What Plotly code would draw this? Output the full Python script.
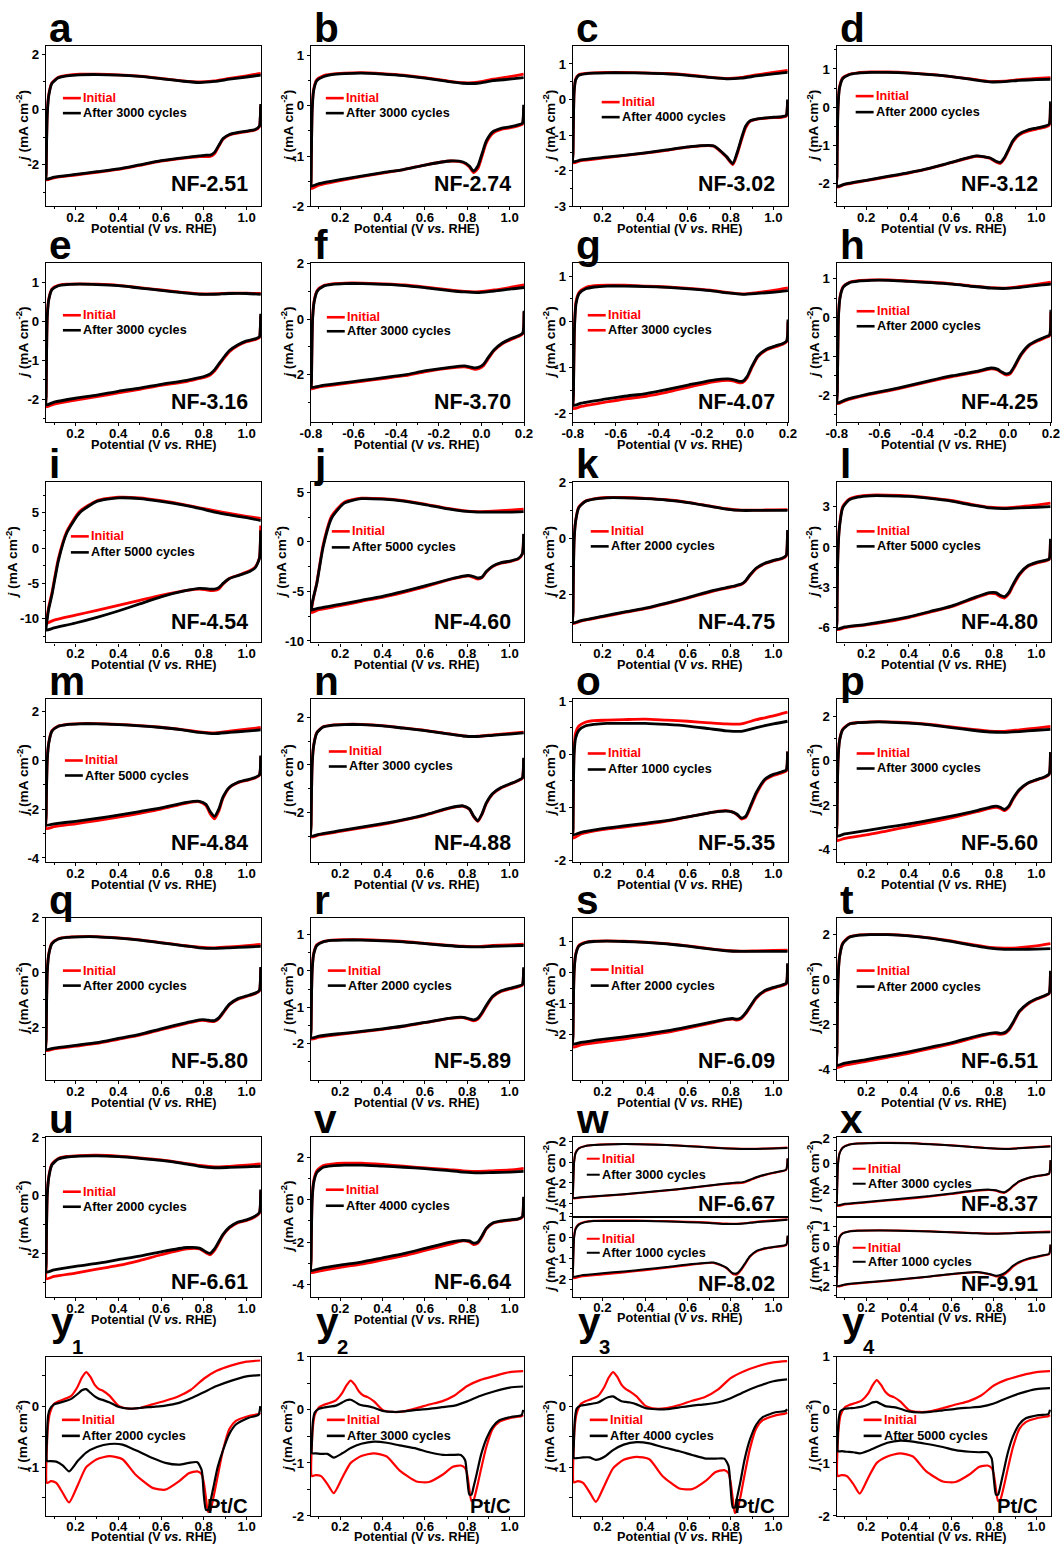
import plotly.graph_objects as go

# Positions below are given in pixels of the final picture.  The page puts the
# figure at an 8 px offset and the picture is a slightly reduced view of it
# (1076x1562 -> 1060x1546), so page pixels are converted with that mapping.
W, H = 1060, 1546
OFF = 8
SX, SY = 1060 / 1076, 1546 / 1562
K = 1 / SX  # font / size compensation
FONT = "Liberation Sans, Arial, sans-serif"
RED, BLACK = "#ff0000", "#000000"

# ---------------- potential grids (V vs. RHE) ----------------
X_UP = [0.063, 0.065, 0.068, 0.075, 0.09, 0.12, 0.16, 0.22, 0.3, 0.4, 0.5, 0.6, 0.7, 0.78, 0.85, 0.92, 1.0, 1.066]
X_DN = [1.066, 1.064, 1.06, 1.04, 1.0, 0.96, 0.92, 0.89, 0.87, 0.85, 0.83, 0.81, 0.78, 0.72, 0.6, 0.5, 0.4, 0.3, 0.2, 0.1, 0.063]
X_UP_NEG = [-0.797, -0.795, -0.792, -0.785, -0.77, -0.74, -0.7, -0.64, -0.56, -0.46, -0.36, -0.26, -0.16, -0.08, -0.01, 0.06, 0.14, 0.2]
X_DN_NEG = [0.2, 0.198, 0.194, 0.174, 0.14, 0.1, 0.06, 0.03, 0.01, -0.01, -0.03, -0.05, -0.08, -0.14, -0.26, -0.36, -0.46, -0.56, -0.66, -0.76, -0.797]
X_UP_PT = [0.067, 0.072, 0.08, 0.1, 0.12, 0.15, 0.18, 0.21, 0.23, 0.25, 0.27, 0.29, 0.31, 0.33, 0.36, 0.4, 0.45, 0.5, 0.56, 0.62, 0.68, 0.74, 0.8, 0.86, 0.93, 1.0, 1.064]
X_DN_PT = [1.064, 1.056, 1.01, 0.95, 0.92, 0.89, 0.865, 0.845, 0.83, 0.82, 0.81, 0.80, 0.79, 0.77, 0.73, 0.685, 0.62, 0.56, 0.48, 0.42, 0.36, 0.30, 0.25, 0.21, 0.17, 0.14, 0.11, 0.085, 0.067]

# ---------------- current densities j (mA cm^-2) ----------------
# _UP_ = anodic branch, _DN_ = cathodic branch, _I = initial, _A = after cycling
A_UP_I = [-2.3, -1.1, -0.1, 0.55, 0.97, 1.17, 1.24, 1.28, 1.28, 1.26, 1.21, 1.13, 1.04, 1.0, 1.04, 1.13, 1.22, 1.31]
A_UP_A = [-2.3, -1.2, -0.2, 0.5, 0.95, 1.15, 1.22, 1.26, 1.27, 1.25, 1.2, 1.12, 1.03, 0.98, 1.02, 1.1, 1.18, 1.25]
A_DN_I = [0.15, -0.32, -0.62, -0.74, -0.8, -0.85, -0.92, -1.08, -1.33, -1.6, -1.7, -1.7, -1.7, -1.75, -1.87, -2.02, -2.17, -2.27, -2.37, -2.47, -2.55]
A_DN_A = [0.2, -0.3, -0.6, -0.72, -0.78, -0.83, -0.9, -1.05, -1.3, -1.55, -1.65, -1.65, -1.68, -1.73, -1.85, -2.0, -2.15, -2.25, -2.35, -2.45, -2.52]

B_UP_I = [-1.5, -0.75, -0.05, 0.33, 0.52, 0.6, 0.63, 0.65, 0.66, 0.64, 0.61, 0.56, 0.5, 0.46, 0.47, 0.53, 0.58, 0.63]
B_UP_A = [-1.5, -0.8, -0.1, 0.3, 0.5, 0.58, 0.62, 0.64, 0.65, 0.63, 0.6, 0.55, 0.49, 0.45, 0.45, 0.5, 0.53, 0.56]
B_DN_I = [-0.05, -0.28, -0.37, -0.4, -0.44, -0.47, -0.55, -0.74, -1.0, -1.25, -1.33, -1.22, -1.13, -1.1, -1.18, -1.27, -1.34, -1.41, -1.49, -1.58, -1.65]
B_DN_A = [0.02, -0.25, -0.35, -0.38, -0.42, -0.45, -0.52, -0.7, -0.95, -1.2, -1.3, -1.2, -1.12, -1.1, -1.18, -1.27, -1.33, -1.4, -1.47, -1.55, -1.6]

C_UP_I = [-1.5, -0.55, 0.22, 0.57, 0.7, 0.73, 0.75, 0.76, 0.76, 0.75, 0.73, 0.69, 0.63, 0.59, 0.62, 0.69, 0.76, 0.82]
C_UP_A = [-1.5, -0.6, 0.2, 0.55, 0.68, 0.72, 0.74, 0.75, 0.75, 0.74, 0.72, 0.68, 0.62, 0.58, 0.6, 0.66, 0.72, 0.76]
C_DN_I = [-0.05, -0.32, -0.47, -0.5, -0.51, -0.53, -0.56, -0.62, -0.8, -1.15, -1.55, -1.83, -1.62, -1.31, -1.34, -1.43, -1.51, -1.58, -1.65, -1.72, -1.78]
C_DN_A = [0.0, -0.3, -0.45, -0.48, -0.5, -0.52, -0.55, -0.6, -0.75, -1.1, -1.5, -1.8, -1.6, -1.3, -1.33, -1.42, -1.5, -1.57, -1.63, -1.7, -1.75]

D_UP_I = [-1.8, -0.75, 0.05, 0.53, 0.77, 0.86, 0.9, 0.92, 0.92, 0.9, 0.86, 0.8, 0.73, 0.67, 0.68, 0.72, 0.75, 0.77]
D_UP_A = [-1.8, -0.8, 0.0, 0.5, 0.75, 0.85, 0.89, 0.91, 0.91, 0.89, 0.85, 0.8, 0.72, 0.66, 0.67, 0.7, 0.72, 0.73]
D_DN_I = [0.1, -0.32, -0.48, -0.53, -0.58, -0.63, -0.73, -0.91, -1.13, -1.35, -1.48, -1.44, -1.34, -1.29, -1.46, -1.61, -1.73, -1.83, -1.93, -2.03, -2.1]
D_DN_A = [0.15, -0.3, -0.45, -0.5, -0.55, -0.6, -0.7, -0.88, -1.1, -1.32, -1.45, -1.42, -1.33, -1.28, -1.45, -1.6, -1.72, -1.82, -1.92, -2.02, -2.08]

E_UP_I = [-1.9, -0.75, 0.15, 0.58, 0.84, 0.93, 0.96, 0.97, 0.96, 0.93, 0.87, 0.81, 0.75, 0.71, 0.71, 0.73, 0.73, 0.72]
E_UP_A = [-1.9, -0.8, 0.1, 0.55, 0.82, 0.92, 0.95, 0.96, 0.95, 0.92, 0.86, 0.8, 0.74, 0.7, 0.7, 0.72, 0.72, 0.7]
E_DN_I = [0.15, -0.22, -0.42, -0.47, -0.52, -0.62, -0.78, -0.98, -1.13, -1.28, -1.38, -1.43, -1.47, -1.55, -1.65, -1.75, -1.84, -1.94, -2.03, -2.13, -2.2]
E_DN_A = [0.2, -0.2, -0.4, -0.45, -0.5, -0.6, -0.75, -0.95, -1.1, -1.25, -1.35, -1.4, -1.45, -1.52, -1.62, -1.72, -1.8, -1.9, -1.98, -2.08, -2.15]

F_UP_I = [-2.2, -0.95, 0.05, 0.65, 1.03, 1.2, 1.26, 1.29, 1.29, 1.26, 1.22, 1.14, 1.05, 0.99, 0.98, 1.04, 1.14, 1.22]
F_UP_A = [-2.2, -1.0, 0.0, 0.6, 1.0, 1.18, 1.24, 1.27, 1.27, 1.24, 1.2, 1.12, 1.03, 0.97, 0.95, 1.0, 1.08, 1.13]
F_DN_I = [0.25, -0.33, -0.53, -0.63, -0.73, -0.88, -1.13, -1.45, -1.67, -1.77, -1.8, -1.76, -1.71, -1.75, -1.88, -2.03, -2.13, -2.23, -2.33, -2.43, -2.5]
F_DN_A = [0.3, -0.3, -0.5, -0.6, -0.7, -0.85, -1.1, -1.4, -1.62, -1.72, -1.75, -1.72, -1.68, -1.72, -1.85, -2.0, -2.1, -2.2, -2.3, -2.4, -2.45]

G_UP_I = [-1.6, -0.75, -0.05, 0.45, 0.65, 0.75, 0.79, 0.8, 0.8, 0.78, 0.76, 0.73, 0.69, 0.64, 0.61, 0.64, 0.69, 0.74]
G_UP_A = [-1.6, -0.8, -0.1, 0.4, 0.62, 0.72, 0.76, 0.78, 0.78, 0.77, 0.75, 0.72, 0.68, 0.63, 0.6, 0.62, 0.65, 0.68]
G_DN_I = [0.0, -0.32, -0.44, -0.5, -0.55, -0.62, -0.77, -1.03, -1.23, -1.33, -1.33, -1.3, -1.28, -1.31, -1.43, -1.54, -1.63, -1.69, -1.77, -1.85, -1.9]
G_DN_A = [0.05, -0.3, -0.42, -0.48, -0.53, -0.6, -0.75, -1.0, -1.2, -1.3, -1.3, -1.27, -1.25, -1.27, -1.38, -1.48, -1.57, -1.63, -1.7, -1.78, -1.83]

H_UP_I = [-1.9, -0.85, 0.05, 0.53, 0.8, 0.91, 0.95, 0.97, 0.97, 0.94, 0.91, 0.87, 0.81, 0.77, 0.76, 0.8, 0.86, 0.91]
H_UP_A = [-1.9, -0.9, 0.0, 0.5, 0.78, 0.9, 0.94, 0.96, 0.96, 0.93, 0.9, 0.86, 0.8, 0.76, 0.75, 0.78, 0.83, 0.86]
H_DN_I = [0.15, -0.32, -0.47, -0.52, -0.6, -0.72, -0.98, -1.28, -1.45, -1.48, -1.42, -1.35, -1.32, -1.4, -1.52, -1.64, -1.77, -1.89, -2.0, -2.14, -2.22]
H_DN_A = [0.2, -0.3, -0.45, -0.5, -0.58, -0.7, -0.95, -1.25, -1.42, -1.45, -1.4, -1.33, -1.3, -1.38, -1.5, -1.62, -1.75, -1.87, -1.98, -2.12, -2.2]

I_UP_I = [-10.7, -10.2, -9.6, -8.3, -6.3, -1.5, 2.4, 5.2, 6.7, 7.2, 7.1, 6.7, 6.2, 5.7, 5.3, 4.9, 4.5, 4.2]
I_UP_A = [-11.2, -10.7, -10.0, -8.6, -6.6, -1.8, 2.2, 5.0, 6.6, 7.1, 7.0, 6.6, 6.1, 5.6, 5.1, 4.7, 4.3, 3.9]
I_DN_I = [3.2, 0.5, -1.4, -2.7, -3.4, -3.85, -4.3, -5.1, -5.8, -6.0, -6.0, -5.9, -5.8, -6.0, -6.7, -7.4, -8.1, -8.8, -9.5, -10.2, -10.7]
I_DN_A = [2.5, 0.3, -1.5, -2.8, -3.5, -3.9, -4.3, -5.0, -5.6, -5.8, -5.8, -5.75, -5.7, -6.0, -6.9, -7.9, -8.9, -9.8, -10.6, -11.3, -11.6]

J_UP_I = [-7.1, -6.8, -6.4, -5.6, -4.1, -0.3, 2.6, 4.0, 4.4, 4.35, 4.15, 3.8, 3.4, 3.15, 3.05, 3.1, 3.2, 3.3]
J_UP_A = [-6.9, -6.6, -6.2, -5.5, -4.2, -0.5, 2.4, 3.9, 4.35, 4.3, 4.1, 3.75, 3.35, 3.1, 3.0, 3.0, 3.0, 3.05]
J_DN_I = [0.7, -0.55, -1.25, -1.75, -2.0, -2.15, -2.5, -3.05, -3.6, -3.75, -3.6, -3.45, -3.5, -3.8, -4.55, -5.1, -5.6, -6.0, -6.45, -6.85, -7.15]
J_DN_A = [0.8, -0.5, -1.2, -1.7, -1.95, -2.1, -2.45, -3.0, -3.55, -3.65, -3.5, -3.4, -3.45, -3.75, -4.45, -5.0, -5.5, -5.9, -6.3, -6.7, -6.9]

K_UP_I = [-2.6, -1.15, -0.05, 0.63, 1.12, 1.33, 1.41, 1.46, 1.46, 1.43, 1.38, 1.29, 1.16, 1.06, 1.01, 1.01, 1.02, 1.03]
K_UP_A = [-2.6, -1.2, -0.1, 0.6, 1.1, 1.32, 1.4, 1.45, 1.45, 1.42, 1.37, 1.28, 1.15, 1.05, 1.0, 1.0, 1.0, 1.0]
K_DN_I = [0.25, -0.32, -0.62, -0.72, -0.8, -0.9, -1.07, -1.32, -1.52, -1.64, -1.68, -1.72, -1.77, -1.87, -2.12, -2.32, -2.5, -2.64, -2.79, -2.94, -3.03]
K_DN_A = [0.3, -0.3, -0.6, -0.7, -0.78, -0.88, -1.05, -1.3, -1.5, -1.62, -1.66, -1.7, -1.75, -1.85, -2.1, -2.3, -2.48, -2.62, -2.77, -2.92, -3.0]

L_UP_I = [-5.5, -2.3, -0.1, 1.6, 3.0, 3.55, 3.75, 3.85, 3.85, 3.8, 3.65, 3.45, 3.15, 2.95, 2.9, 2.98, 3.1, 3.25]
L_UP_A = [-5.5, -2.5, -0.3, 1.5, 2.9, 3.5, 3.7, 3.8, 3.8, 3.75, 3.6, 3.4, 3.1, 2.9, 2.85, 2.9, 2.95, 3.0]
L_DN_I = [0.5, -0.45, -0.95, -1.05, -1.2, -1.45, -2.1, -2.9, -3.5, -3.8, -3.7, -3.5, -3.45, -3.75, -4.45, -4.85, -5.25, -5.55, -5.8, -6.0, -6.15]
L_DN_A = [0.6, -0.4, -0.9, -1.0, -1.15, -1.4, -2.0, -2.8, -3.4, -3.7, -3.6, -3.4, -3.4, -3.7, -4.4, -4.8, -5.2, -5.5, -5.75, -5.95, -6.1]

M_UP_I = [-2.3, -0.95, 0.05, 0.73, 1.22, 1.41, 1.48, 1.51, 1.51, 1.48, 1.43, 1.36, 1.26, 1.17, 1.13, 1.2, 1.28, 1.35]
M_UP_A = [-2.2, -1.0, 0.0, 0.7, 1.2, 1.4, 1.47, 1.5, 1.5, 1.47, 1.42, 1.35, 1.25, 1.15, 1.1, 1.15, 1.2, 1.25]
M_DN_I = [0.15, -0.42, -0.62, -0.72, -0.82, -0.92, -1.12, -1.55, -2.08, -2.4, -2.2, -1.85, -1.7, -1.75, -2.0, -2.17, -2.33, -2.47, -2.6, -2.72, -2.8]
M_DN_A = [0.2, -0.4, -0.6, -0.7, -0.8, -0.9, -1.1, -1.5, -2.0, -2.3, -2.1, -1.8, -1.68, -1.72, -1.95, -2.1, -2.25, -2.38, -2.5, -2.6, -2.65]

N_UP_I = [-2.5, -1.15, 0.05, 0.83, 1.37, 1.61, 1.68, 1.71, 1.71, 1.66, 1.56, 1.46, 1.33, 1.23, 1.21, 1.27, 1.33, 1.38]
N_UP_A = [-2.5, -1.2, 0.0, 0.8, 1.35, 1.6, 1.67, 1.7, 1.7, 1.65, 1.55, 1.45, 1.32, 1.22, 1.2, 1.25, 1.3, 1.35]
N_DN_I = [0.25, -0.32, -0.57, -0.67, -0.82, -0.97, -1.22, -1.63, -2.08, -2.38, -2.18, -1.87, -1.74, -1.82, -2.12, -2.32, -2.5, -2.65, -2.8, -2.95, -3.04]
N_DN_A = [0.3, -0.3, -0.55, -0.65, -0.8, -0.95, -1.2, -1.6, -2.05, -2.35, -2.15, -1.85, -1.72, -1.8, -2.1, -2.3, -2.47, -2.62, -2.77, -2.92, -3.0]

O_UP_I = [-1.4, -0.5, 0.1, 0.4, 0.53, 0.6, 0.63, 0.64, 0.65, 0.66, 0.64, 0.62, 0.59, 0.57, 0.57, 0.65, 0.72, 0.79]
O_UP_A = [-1.4, -0.6, 0.0, 0.3, 0.45, 0.53, 0.56, 0.58, 0.58, 0.58, 0.56, 0.53, 0.48, 0.44, 0.43, 0.5, 0.57, 0.62]
O_DN_I = [0.05, -0.22, -0.32, -0.35, -0.4, -0.49, -0.75, -1.03, -1.19, -1.22, -1.14, -1.09, -1.06, -1.09, -1.18, -1.26, -1.32, -1.37, -1.42, -1.5, -1.58]
O_DN_A = [0.05, -0.2, -0.3, -0.33, -0.38, -0.47, -0.72, -1.0, -1.17, -1.2, -1.13, -1.09, -1.07, -1.09, -1.18, -1.25, -1.3, -1.35, -1.4, -1.47, -1.52]

P_UP_I = [-2.9, -1.25, 0.05, 0.93, 1.42, 1.66, 1.73, 1.76, 1.76, 1.72, 1.64, 1.53, 1.42, 1.34, 1.33, 1.4, 1.48, 1.55]
P_UP_A = [-2.8, -1.3, 0.0, 0.9, 1.4, 1.65, 1.72, 1.75, 1.75, 1.7, 1.62, 1.5, 1.38, 1.3, 1.28, 1.32, 1.38, 1.42]
P_DN_I = [0.35, -0.32, -0.62, -0.74, -0.87, -1.02, -1.33, -1.75, -2.1, -2.25, -2.15, -2.1, -2.15, -2.3, -2.58, -2.78, -2.97, -3.16, -3.35, -3.5, -3.6]
P_DN_A = [0.4, -0.3, -0.6, -0.72, -0.85, -1.0, -1.3, -1.7, -2.05, -2.2, -2.1, -2.05, -2.1, -2.25, -2.5, -2.68, -2.85, -3.0, -3.15, -3.3, -3.4]

Q_UP_I = [-2.4, -1.05, 0.05, 0.68, 1.07, 1.23, 1.29, 1.31, 1.31, 1.26, 1.19, 1.09, 0.99, 0.92, 0.9, 0.93, 0.98, 1.02]
Q_UP_A = [-2.4, -1.1, 0.0, 0.65, 1.05, 1.22, 1.28, 1.3, 1.3, 1.25, 1.18, 1.08, 0.98, 0.9, 0.88, 0.9, 0.93, 0.95]
Q_DN_I = [0.15, -0.42, -0.67, -0.77, -0.87, -0.97, -1.17, -1.48, -1.68, -1.78, -1.78, -1.75, -1.75, -1.85, -2.08, -2.28, -2.43, -2.58, -2.68, -2.78, -2.84]
Q_DN_A = [0.2, -0.4, -0.65, -0.75, -0.85, -0.95, -1.15, -1.45, -1.65, -1.75, -1.75, -1.72, -1.72, -1.82, -2.05, -2.25, -2.4, -2.55, -2.65, -2.75, -2.8]

R_UP_I = [-1.6, -0.65, 0.05, 0.48, 0.72, 0.81, 0.85, 0.86, 0.86, 0.84, 0.81, 0.76, 0.71, 0.68, 0.67, 0.7, 0.72, 0.74]
R_UP_A = [-1.6, -0.7, 0.0, 0.45, 0.7, 0.8, 0.84, 0.85, 0.85, 0.83, 0.8, 0.75, 0.7, 0.67, 0.66, 0.68, 0.69, 0.7]
R_DN_I = [0.05, -0.27, -0.4, -0.44, -0.5, -0.57, -0.72, -0.98, -1.18, -1.33, -1.38, -1.34, -1.29, -1.31, -1.43, -1.53, -1.61, -1.68, -1.75, -1.83, -1.88]
R_DN_A = [0.1, -0.25, -0.38, -0.42, -0.48, -0.55, -0.7, -0.95, -1.15, -1.3, -1.35, -1.32, -1.28, -1.3, -1.42, -1.52, -1.6, -1.67, -1.73, -1.8, -1.85]

S_UP_I = [-2.0, -0.85, 0.05, 0.58, 0.87, 0.97, 1.01, 1.02, 1.01, 0.98, 0.93, 0.86, 0.77, 0.71, 0.69, 0.7, 0.71, 0.72]
S_UP_A = [-2.0, -0.9, 0.0, 0.55, 0.85, 0.96, 1.0, 1.01, 1.0, 0.97, 0.92, 0.85, 0.76, 0.7, 0.68, 0.68, 0.68, 0.68]
S_DN_I = [0.25, -0.22, -0.37, -0.42, -0.5, -0.6, -0.83, -1.13, -1.33, -1.48, -1.53, -1.5, -1.52, -1.61, -1.79, -1.93, -2.04, -2.14, -2.23, -2.33, -2.4]
S_DN_A = [0.3, -0.2, -0.35, -0.4, -0.48, -0.58, -0.8, -1.1, -1.3, -1.45, -1.5, -1.48, -1.5, -1.58, -1.75, -1.88, -1.98, -2.07, -2.15, -2.25, -2.3]

T_UP_I = [-3.2, -1.45, 0.05, 1.03, 1.62, 1.9, 1.98, 2.01, 2.01, 1.96, 1.86, 1.72, 1.56, 1.44, 1.4, 1.42, 1.5, 1.6]
T_UP_A = [-3.2, -1.5, 0.0, 1.0, 1.6, 1.88, 1.97, 2.0, 2.0, 1.95, 1.85, 1.7, 1.53, 1.4, 1.35, 1.35, 1.36, 1.38]
T_DN_I = [0.35, -0.32, -0.62, -0.72, -0.87, -1.08, -1.43, -1.95, -2.25, -2.4, -2.43, -2.4, -2.42, -2.55, -2.85, -3.06, -3.27, -3.45, -3.63, -3.8, -3.9]
T_DN_A = [0.4, -0.3, -0.6, -0.7, -0.85, -1.05, -1.4, -1.9, -2.2, -2.35, -2.38, -2.35, -2.38, -2.5, -2.8, -3.0, -3.2, -3.38, -3.55, -3.7, -3.8]

U_UP_I = [-2.5, -1.0, 0.05, 0.65, 1.08, 1.27, 1.34, 1.37, 1.38, 1.35, 1.29, 1.22, 1.12, 1.03, 0.98, 1.0, 1.04, 1.08]
U_UP_A = [-2.3, -1.0, 0.0, 0.6, 1.05, 1.25, 1.32, 1.35, 1.36, 1.33, 1.27, 1.2, 1.1, 1.0, 0.95, 0.96, 0.98, 1.0]
U_DN_I = [0.15, -0.42, -0.62, -0.74, -0.87, -0.95, -1.13, -1.38, -1.65, -1.9, -2.05, -1.98, -1.85, -1.85, -2.05, -2.25, -2.42, -2.55, -2.68, -2.8, -2.88]
U_DN_A = [0.2, -0.4, -0.6, -0.72, -0.85, -0.92, -1.1, -1.35, -1.6, -1.85, -2.0, -1.95, -1.82, -1.8, -1.95, -2.1, -2.22, -2.35, -2.45, -2.57, -2.65]

V_UP_I = [-2.9, -1.2, 0.1, 0.9, 1.38, 1.63, 1.7, 1.74, 1.74, 1.68, 1.6, 1.52, 1.45, 1.38, 1.35, 1.38, 1.42, 1.5]
V_UP_A = [-2.8, -1.3, 0.0, 0.8, 1.3, 1.55, 1.62, 1.65, 1.65, 1.6, 1.55, 1.48, 1.4, 1.32, 1.28, 1.3, 1.32, 1.35]
V_DN_I = [0.1, -0.52, -0.82, -0.92, -0.97, -1.02, -1.12, -1.38, -1.75, -2.05, -2.12, -2.0, -1.95, -2.1, -2.4, -2.65, -2.85, -3.05, -3.2, -3.38, -3.45]
V_DN_A = [0.15, -0.5, -0.8, -0.9, -0.95, -1.0, -1.1, -1.35, -1.7, -2.0, -2.05, -1.95, -1.92, -2.0, -2.3, -2.55, -2.75, -2.95, -3.1, -3.27, -3.35]

W1_UP_I = [-2.8, -1.4, 0.1, 0.95, 1.38, 1.6, 1.7, 1.77, 1.8, 1.77, 1.7, 1.6, 1.47, 1.37, 1.32, 1.33, 1.38, 1.45]
W1_UP_A = [-2.8, -1.5, 0.0, 0.9, 1.35, 1.58, 1.68, 1.75, 1.78, 1.75, 1.68, 1.58, 1.45, 1.35, 1.3, 1.3, 1.35, 1.4]
W1_DN_I = [0.35, -0.33, -0.73, -0.88, -1.03, -1.23, -1.5, -1.75, -1.92, -2.02, -2.03, -2.05, -2.1, -2.23, -2.53, -2.75, -2.95, -3.13, -3.28, -3.43, -3.5]
W1_DN_A = [0.4, -0.3, -0.7, -0.85, -1.0, -1.2, -1.45, -1.7, -1.85, -1.95, -1.97, -2.0, -2.07, -2.2, -2.5, -2.72, -2.92, -3.1, -3.25, -3.4, -3.45]

W2_UP_I = [-1.5, -0.65, 0.05, 0.45, 0.65, 0.76, 0.81, 0.82, 0.82, 0.81, 0.79, 0.76, 0.72, 0.67, 0.68, 0.76, 0.83, 0.88]
W2_UP_A = [-1.5, -0.7, 0.0, 0.4, 0.62, 0.74, 0.79, 0.8, 0.8, 0.79, 0.77, 0.74, 0.7, 0.65, 0.66, 0.74, 0.8, 0.85]
W2_DN_I = [0.05, -0.22, -0.37, -0.42, -0.47, -0.54, -0.68, -0.93, -1.25, -1.55, -1.78, -1.76, -1.47, -1.22, -1.33, -1.45, -1.57, -1.68, -1.78, -1.88, -1.95]
W2_DN_A = [0.1, -0.2, -0.35, -0.4, -0.45, -0.52, -0.65, -0.9, -1.2, -1.5, -1.72, -1.72, -1.45, -1.2, -1.3, -1.42, -1.53, -1.63, -1.72, -1.82, -1.88]

X1_UP_I = [-2.7, -1.25, 0.05, 0.83, 1.27, 1.5, 1.58, 1.61, 1.63, 1.61, 1.53, 1.43, 1.31, 1.21, 1.17, 1.22, 1.3, 1.38]
X1_UP_A = [-2.7, -1.3, 0.0, 0.8, 1.25, 1.48, 1.57, 1.6, 1.62, 1.6, 1.52, 1.42, 1.3, 1.2, 1.15, 1.2, 1.28, 1.35]
X1_DN_I = [0.25, -0.42, -0.77, -0.87, -0.97, -1.12, -1.38, -1.75, -2.05, -2.25, -2.2, -2.08, -2.02, -2.08, -2.34, -2.54, -2.7, -2.85, -3.0, -3.15, -3.27]
X1_DN_A = [0.3, -0.4, -0.75, -0.85, -0.95, -1.1, -1.35, -1.7, -2.0, -2.2, -2.15, -2.05, -2.0, -2.05, -2.3, -2.5, -2.65, -2.8, -2.95, -3.1, -3.2]

X2_UP_I = [-1.6, -0.75, 0.05, 0.48, 0.67, 0.76, 0.8, 0.81, 0.81, 0.79, 0.76, 0.72, 0.68, 0.65, 0.66, 0.7, 0.73, 0.75]
X2_UP_A = [-1.6, -0.8, 0.0, 0.45, 0.65, 0.75, 0.79, 0.8, 0.8, 0.78, 0.75, 0.71, 0.67, 0.64, 0.65, 0.68, 0.7, 0.72]
X2_DN_I = [0.05, -0.22, -0.4, -0.45, -0.55, -0.65, -0.82, -1.03, -1.25, -1.42, -1.52, -1.52, -1.42, -1.31, -1.41, -1.53, -1.64, -1.75, -1.84, -1.95, -2.03]
X2_DN_A = [0.1, -0.2, -0.38, -0.43, -0.52, -0.62, -0.78, -0.98, -1.18, -1.35, -1.45, -1.48, -1.4, -1.3, -1.4, -1.52, -1.63, -1.73, -1.82, -1.93, -2.0]

Y1_UP_I = [-0.6, -0.3, -0.12, 0.04, 0.08, 0.12, 0.17, 0.32, 0.47, 0.56, 0.48, 0.35, 0.28, 0.25, 0.17, 0.01, -0.04, -0.03, 0.03, 0.09, 0.16, 0.27, 0.45, 0.58, 0.67, 0.73, 0.75]
Y1_UP_A = [-0.5, -0.15, -0.05, 0.03, 0.05, 0.08, 0.12, 0.2, 0.26, 0.28, 0.22, 0.16, 0.12, 0.1, 0.06, -0.01, -0.04, -0.03, -0.01, 0.01, 0.05, 0.13, 0.23, 0.33, 0.42, 0.49, 0.51]
Y1_DN_I = [-0.11, -0.13, -0.16, -0.24, -0.37, -0.72, -1.15, -1.5, -1.72, -1.73, -1.5, -1.25, -1.12, -1.07, -1.1, -1.23, -1.37, -1.34, -1.12, -0.87, -0.82, -0.87, -1.0, -1.3, -1.58, -1.42, -1.26, -1.23, -1.26]
Y1_DN_A = [0.0, -0.14, -0.19, -0.3, -0.45, -0.72, -1.0, -1.33, -1.58, -1.7, -1.7, -1.45, -1.05, -0.92, -0.93, -0.96, -0.93, -0.85, -0.72, -0.63, -0.62, -0.67, -0.76, -0.9, -1.07, -0.97, -0.91, -0.9, -0.9]

Y2_UP_I = [-0.6, -0.3, -0.1, 0.05, 0.09, 0.13, 0.18, 0.32, 0.46, 0.55, 0.47, 0.34, 0.27, 0.24, 0.16, 0.0, -0.04, -0.03, 0.03, 0.1, 0.16, 0.27, 0.45, 0.56, 0.64, 0.71, 0.73]
Y2_UP_A = [-0.6, -0.2, -0.05, 0.02, 0.04, 0.06, 0.08, 0.14, 0.18, 0.19, 0.15, 0.1, 0.08, 0.07, 0.04, -0.02, -0.04, -0.03, 0.0, 0.02, 0.05, 0.08, 0.16, 0.26, 0.35, 0.42, 0.44]
Y2_DN_I = [-0.1, -0.12, -0.15, -0.23, -0.36, -0.7, -1.12, -1.48, -1.7, -1.72, -1.5, -1.22, -1.1, -1.05, -1.08, -1.22, -1.36, -1.35, -1.14, -0.88, -0.82, -0.87, -1.0, -1.28, -1.57, -1.4, -1.25, -1.23, -1.25]
Y2_DN_A = [0.0, -0.1, -0.13, -0.2, -0.32, -0.55, -0.85, -1.2, -1.45, -1.6, -1.6, -1.3, -0.95, -0.85, -0.85, -0.85, -0.8, -0.73, -0.67, -0.62, -0.6, -0.64, -0.72, -0.82, -0.9, -0.83, -0.83, -0.82, -0.82]

Y3_UP_I = [-0.6, -0.3, -0.12, 0.04, 0.08, 0.12, 0.17, 0.32, 0.47, 0.56, 0.48, 0.35, 0.28, 0.24, 0.16, 0.01, -0.04, -0.03, 0.02, 0.09, 0.15, 0.27, 0.46, 0.57, 0.66, 0.72, 0.74]
Y3_UP_A = [-0.6, -0.2, -0.04, 0.01, 0.02, 0.04, 0.06, 0.12, 0.15, 0.16, 0.12, 0.08, 0.07, 0.06, 0.03, -0.03, -0.05, -0.05, -0.02, 0.01, 0.03, 0.06, 0.13, 0.23, 0.33, 0.41, 0.44]
Y3_DN_I = [-0.1, -0.12, -0.15, -0.23, -0.36, -0.7, -1.13, -1.5, -1.72, -1.75, -1.52, -1.25, -1.1, -1.05, -1.08, -1.22, -1.36, -1.35, -1.14, -0.87, -0.83, -0.88, -1.02, -1.3, -1.57, -1.41, -1.26, -1.23, -1.25]
Y3_DN_A = [-0.05, -0.08, -0.1, -0.18, -0.3, -0.55, -0.88, -1.25, -1.5, -1.66, -1.66, -1.35, -0.98, -0.86, -0.86, -0.86, -0.8, -0.74, -0.67, -0.61, -0.59, -0.63, -0.72, -0.83, -0.88, -0.84, -0.84, -0.85, -0.85]

Y4_UP_I = [-0.6, -0.3, -0.1, 0.05, 0.09, 0.13, 0.18, 0.31, 0.46, 0.56, 0.47, 0.34, 0.27, 0.24, 0.16, 0.0, -0.04, -0.03, 0.03, 0.1, 0.16, 0.27, 0.46, 0.57, 0.65, 0.71, 0.73]
Y4_UP_A = [-0.5, -0.15, -0.02, 0.02, 0.03, 0.04, 0.06, 0.1, 0.14, 0.15, 0.11, 0.07, 0.06, 0.05, 0.02, -0.03, -0.05, -0.04, -0.01, 0.02, 0.04, 0.06, 0.12, 0.22, 0.32, 0.39, 0.41]
Y4_DN_I = [-0.1, -0.12, -0.15, -0.23, -0.36, -0.7, -1.12, -1.48, -1.7, -1.72, -1.5, -1.22, -1.1, -1.05, -1.08, -1.22, -1.36, -1.35, -1.15, -0.88, -0.82, -0.88, -1.0, -1.28, -1.58, -1.4, -1.25, -1.23, -1.25]
Y4_DN_A = [0.0, -0.08, -0.1, -0.16, -0.27, -0.5, -0.82, -1.18, -1.45, -1.6, -1.6, -1.3, -0.92, -0.8, -0.8, -0.79, -0.76, -0.7, -0.64, -0.6, -0.58, -0.62, -0.7, -0.77, -0.82, -0.8, -0.79, -0.78, -0.78]

# ---------------- panel labels ----------------
PANEL_KEYS = ["a", "b", "c", "d", "e", "f", "g", "h", "i", "j", "k", "l", "m", "n", "o", "p",
              "q", "r", "s", "t", "u", "v", "w1", "w2", "x1", "x2", "y1", "y2", "y3", "y4"]
SAMPLES = ["NF-2.51", "NF-2.74", "NF-3.02", "NF-3.12", "NF-3.16", "NF-3.70", "NF-4.07", "NF-4.25",
           "NF-4.54", "NF-4.60", "NF-4.75", "NF-4.80", "NF-4.84", "NF-4.88", "NF-5.35", "NF-5.60",
           "NF-5.80", "NF-5.89", "NF-6.09", "NF-6.51", "NF-6.61", "NF-6.64", "NF-6.67", "NF-8.02",
           "NF-8.37", "NF-9.91", "Pt/C", "Pt/C", "Pt/C", "Pt/C"]
CYCLES = [3000, 3000, 4000, 2000, 3000, 3000, 3000, 2000, 5000, 5000, 2000, 5000, 5000, 3000, 1000, 3000,
          2000, 2000, 2000, 2000, 2000, 4000, 3000, 1000, 3000, 1000, 2000, 3000, 4000, 5000]
NEG_PANELS = ["f", "g", "h"]          # potential axis -0.8 ... 0.2 V
PT_PANELS = ["y1", "y2", "y3", "y4"]  # Pt/C reference

# y-axis: range, labelled ticks, minor ticks
Y_AXES = {
    "a": ([-3.5, 2.3], [2, 0, -2], [1, -1, -3]),
    "b": ([-2.0, 1.19], [1, 0, -1, -2], [0.5, -0.5, -1.5]),
    "c": ([-3.0, 1.5], [1, 0, -1, -2, -3], [0.5, -0.5, -1.5, -2.5]),
    "d": ([-2.6, 1.6], [1, 0, -1, -2], [1.5, 0.5, -0.5, -1.5, -2.5]),
    "e": ([-2.6, 1.5], [1, 0, -1, -2], [0.5, -0.5, -1.5, -2.5]),
    "f": ([-3.7, 2.0], [2, 0, -2], [1, -1, -3]),
    "g": ([-2.2, 1.28], [1, 0, -1, -2], [0.5, -0.5, -1.5]),
    "h": ([-2.7, 1.4], [1, 0, -1, -2], [0.5, -0.5, -1.5, -2.5]),
    "i": ([-13.35, 9.3], [5, 0, -5, -10], [7.5, 2.5, -2.5, -7.5, -12.5]),
    "j": ([-10.15, 6.0], [5, 0, -5, -10], [2.5, -2.5, -7.5]),
    "k": ([-3.7, 2.0], [2, 0, -2], [1, -1, -3]),
    "l": ([-7.1, 4.8], [3, 0, -3, -6], [1.5, -1.5, -4.5]),
    "m": ([-4.15, 2.5], [2, 0, -2, -4], [1, -1, -3]),
    "n": ([-4.07, 2.76], [2, 0, -2], [1, -1, -3]),
    "o": ([-2.02, 1.03], [1, 0, -1, -2], [0.5, -0.5, -1.5]),
    "p": ([-4.55, 2.77], [2, 0, -2, -4], [1, -1, -3]),
    "q": ([-3.9, 2.0], [2, 0, -2], [1, -1, -3]),
    "r": ([-3.0, 1.47], [1, 0, -1, -2], [0.5, -0.5, -1.5, -2.5]),
    "s": ([-3.45, 1.77], [1, 0, -1, -2], [0.5, -0.5, -1.5, -2.5]),
    "t": ([-4.44, 2.76], [2, 0, -2, -4], [1, -1, -3]),
    "u": ([-3.5, 2.02], [2, 0, -2], [1, -1, -3]),
    "v": ([-4.6, 3.0], [2, 0, -2, -4], [1, -1, -3]),
    "w1": ([-5.3, 2.5], [2, 0, -2, -4], [1, -1, -3, -5]),
    "w2": ([-2.85, 1.0], [1, 0, -1, -2], [0.5, -0.5, -1.5, -2.5]),
    "x1": ([-4.1, 2.1], [2, 0, -2], [1, -1, -3]),
    "x2": ([-2.55, 1.5], [1, 0, -1, -2], [0.5, -0.5, -1.5, -2.5]),
    "y1": ([-1.8, 0.81], [0, -1], [0.5, -0.5, -1.5]),
    "y2": ([-2.0, 1.0], [1, 0, -1, -2], [0.5, -0.5, -1.5]),
    "y3": ([-1.8, 0.81], [0, -1], [0.5, -0.5, -1.5]),
    "y4": ([-2.0, 1.0], [1, 0, -1, -2], [0.5, -0.5, -1.5]),
}

X_TICKS_RHE = [0.2, 0.4, 0.6, 0.8, 1.0]
X_MINOR_RHE = [0.1, 0.3, 0.5, 0.7, 0.9]
X_TICKS_NEG = [-0.8, -0.6, -0.4, -0.2, 0.0, 0.2]
X_MINOR_NEG = [-0.7, -0.5, -0.3, -0.1, 0.1]

# ---------------- geometry (picture px) ----------------
COL_L = [43, 309, 572, 837]
COL_R = [259, 523, 788, 1052]
ROW_T = [47, 264, 483, 700, 918, 1137, 1357]
ROW_B = [207, 423, 643, 862, 1080, 1297, 1516]
SPLIT = 1217
NF_OFF = [14.5, 13, 13, 11, 11, 7, 2.5]
# legend: (line x-offset from frame left, first row y-offset from frame top, row gap, line length)
LEG = {
    "a": (17, 52, 15, 18), "b": (15, 52, 15, 18), "c": (29, 56, 15, 18), "d": (19, 50, 16, 18),
    "e": (17, 52, 15, 18), "f": (16, 54, 14, 18), "g": (15, 52, 15, 18), "h": (20, 48, 15, 18),
    "i": (25, 54, 16, 18), "j": (21, 49, 16, 18), "k": (18, 49, 15, 18), "l": (20, 49, 15, 18),
    "m": (19, 61, 15, 18), "n": (18, 52, 15, 18), "o": (15, 54, 16, 18), "p": (20, 54, 15, 18),
    "q": (17, 53, 15, 18), "r": (17, 53, 15, 18), "s": (18, 52, 16, 18), "t": (20, 53, 16, 18),
    "u": (17, 55, 15, 18), "v": (15, 53, 16, 18),
    "w1": (14, 22, 16, 13), "w2": (14, 22, 14, 13), "x1": (16, 32, 15, 13), "x2": (16, 31, 14, 13),
    "y1": (16, 63, 16, 18), "y2": (16, 63, 16, 18), "y3": (17, 63, 16, 18), "y4": (27, 63, 16, 18),
}
Y_TITLE_OFF = {"i": 34, "j": 30}

DATA = {k: (globals()[k.upper() + "_UP_I"], globals()[k.upper() + "_UP_A"],
            globals()[k.upper() + "_DN_I"], globals()[k.upper() + "_DN_A"]) for k in PANEL_KEYS}


def fx(px):
    return min(1.0, max(0.0, (px / SX - OFF) / W))


def fy(py):
    return min(1.0, max(0.0, 1 - (py / SY - OFF) / H))


def fs(size):
    return round(size * K, 2)


fig = go.Figure()
layout = dict(width=W, height=H, margin=dict(l=0, r=0, t=0, b=0), autosize=False,
              paper_bgcolor="white", plot_bgcolor="white", showlegend=False,
              font=dict(family=FONT, color="black"))
annotations, shapes = [], []


def text_ann(txt, x, y, size, color="black", xanchor="left", angle=0):
    return dict(text=txt, x=fx(x), y=fy(y), xref="paper", yref="paper", xanchor=xanchor,
                yanchor="middle", showarrow=False, textangle=angle,
                font=dict(family=FONT, size=fs(size), color=color))


for n, key in enumerate(PANEL_KEYS):
    idx = n + 1
    if n < 22:
        row, col, part = n // 4, n % 4, None
    elif n < 26:
        row, col = 5, 2 if n < 24 else 3
        part = "top" if n % 2 == 0 else "bot"
    else:
        row, col, part = 6, n - 26, None
    top, bot = ROW_T[row], ROW_B[row]
    if part == "top":
        bot = SPLIT
    elif part == "bot":
        top = SPLIT
    left, right = COL_L[col], COL_R[col]

    if key in NEG_PANELS:
        xu, xd = X_UP_NEG, X_DN_NEG
        xr, xt, xm = [-0.8, 0.2], X_TICKS_NEG, X_MINOR_NEG
    elif key in PT_PANELS:
        xu, xd = X_UP_PT, X_DN_PT
        xr, xt, xm = [0.062, 1.068], X_TICKS_RHE, X_MINOR_RHE
    else:
        xu, xd = X_UP, X_DN
        xr, xt, xm = [0.062, 1.068], X_TICKS_RHE, X_MINOR_RHE
    xtt = ["%.1f" % v for v in xt]

    up_i, up_a, dn_i, dn_a = DATA[key]
    assert len(up_i) == len(xu) and len(up_a) == len(xu), key
    assert len(dn_i) == len(xd) and len(dn_a) == len(xd), key

    half = part is not None
    tight = half or key in PT_PANELS
    lw = 2.0 if half else (2.2 if key in PT_PANELS else 2.8)
    xa = "x" if idx == 1 else "x%d" % idx
    ya = "y" if idx == 1 else "y%d" % idx
    for yd, yu, colr in ((dn_i, up_i, RED), (dn_a, up_a, BLACK)):
        fig.add_trace(go.Scatter(x=xd + xu, y=yd + yu, mode="lines", xaxis=xa, yaxis=ya,
                                 line=dict(color=colr, width=lw, shape="spline", smoothing=0.6),
                                 hoverinfo="skip"))

    yr, yt, ym = Y_AXES[key]
    ax_common = dict(showline=True, linecolor="black", linewidth=1.3, mirror=True,
                     showgrid=False, zeroline=False, ticks="outside", ticklen=3, tickwidth=1.2,
                     tickcolor="black",
                     tickfont=dict(family=FONT, size=fs(13), color="black", weight="bold"))
    xaxis = dict(ax_common, domain=[fx(left), fx(right)], range=xr, anchor=ya,
                 tickmode="array", tickvals=xt, ticktext=xtt,
                 ticklabelstandoff=-5 if tight else -4, ticklabeloverflow="allow",
                 minor=dict(tickvals=xm, ticks="outside", ticklen=2, tickwidth=1, tickcolor="black",
                            showgrid=False))
    if part == "top":
        xaxis.update(showticklabels=False, ticks="", minor=dict(ticks=""))
    else:
        t_off = 21.5 if tight else 23
        annotations.append(text_ann("<b>Potential (V <i>vs.</i> RHE)</b>", (left + right) / 2,
                                    bot + t_off, 12.5, xanchor="center"))
    yaxis = dict(ax_common, domain=[fy(bot), fy(top)], range=yr, anchor=xa,
                 tickmode="array", tickvals=yt, ticktext=[str(v) for v in yt],
                 minor=dict(tickvals=ym, ticks="outside", ticklen=2 if key not in PT_PANELS else 3,
                            tickwidth=1, tickcolor="black", showgrid=False))
    layout["xaxis" if idx == 1 else "xaxis%d" % idx] = xaxis
    layout["yaxis" if idx == 1 else "yaxis%d" % idx] = yaxis

    # y-axis title
    annotations.append(text_ann("<b><i>j</i> (mA cm<sup>-2</sup>)</b>",
                                left - Y_TITLE_OFF.get(key, 24), (top + bot) / 2, 13.5,
                                xanchor="center", angle=-90))

    # panel letter
    if key in PT_PANELS:
        annotations.append(text_ann("<b>y</b>", left + 3, 1357 - 21 - 14, 40))
        annotations.append(text_ann("<b>%s</b>" % key[1], left + 24, 1354 - 7, 20))
    elif part != "bot":
        annotations.append(text_ann("<b>%s</b>" % key[0], left + 1, top - 4 - 14, 40))

    # sample label
    nf_size = 20 if key in PT_PANELS else 21
    off = 5 if half else NF_OFF[row]
    annotations.append(text_ann("<b>%s</b>" % SAMPLES[n], right - 11, bot - off - 0.35 * nf_size,
                                nf_size, xanchor="right"))

    # legend
    lx, ly, gap, ll = LEG[key]
    after_col = RED if key == "g" else BLACK
    for k, (txt, tc, lc) in enumerate((("Initial", RED, RED),
                                        ("After %d cycles" % CYCLES[n], BLACK, after_col))):
        yy = top + ly + k * gap
        shapes.append(dict(type="line", xref="paper", yref="paper",
                           x0=fx(left + lx), x1=fx(left + lx + ll), y0=fy(yy), y1=fy(yy),
                           line=dict(color=lc, width=2.6 if not half else 2.0)))
        annotations.append(text_ann("<b>%s</b>" % txt, left + lx + ll + 0.5, yy, 12.5, color=tc))

layout["annotations"] = annotations
layout["shapes"] = shapes
fig.update_layout(**layout)
fig.write_html("out.html")
